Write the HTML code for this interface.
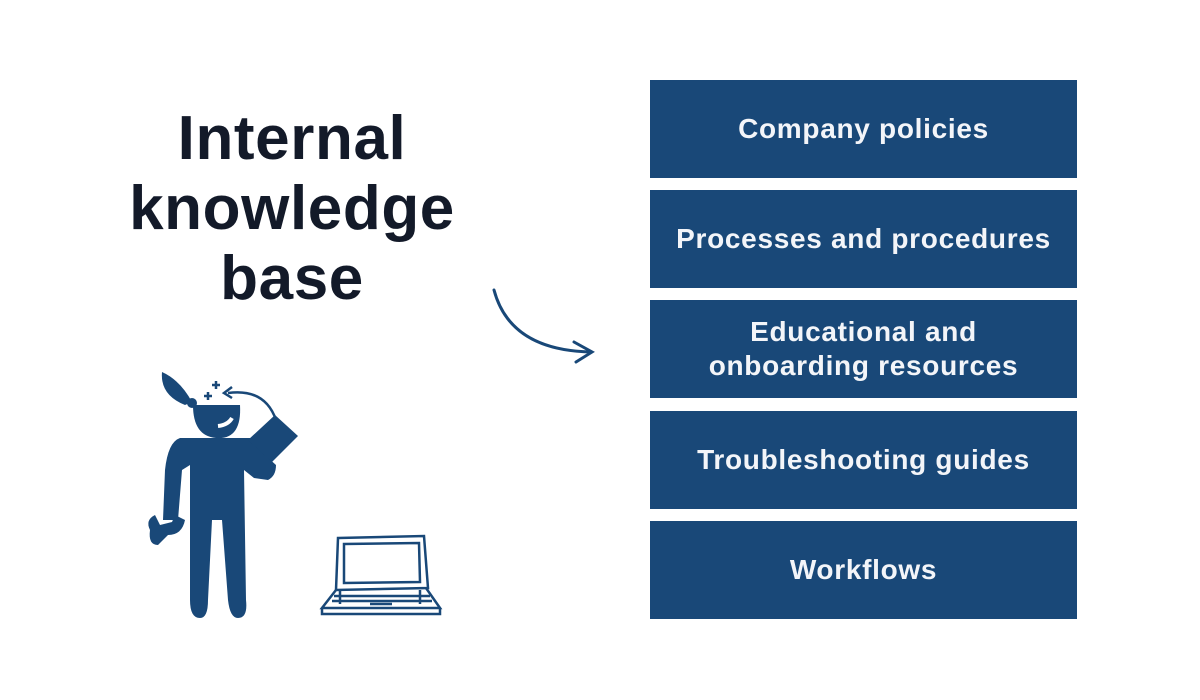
<!DOCTYPE html>
<html><head><meta charset="utf-8"><style>
body{margin:0;width:1200px;height:700px;background:#fff;position:relative;overflow:hidden;font-family:"Liberation Sans",sans-serif}
.t{position:absolute;left:42px;width:500px;top:104px;text-align:center;font-weight:bold;font-size:62px;letter-spacing:0.6px;line-height:70px;color:#131a29}
.b{position:absolute;left:650px;width:427px;height:98px;background:#194878;color:#f3f5f9;font-weight:bold;font-size:28px;letter-spacing:0.7px;display:flex;align-items:center;justify-content:center;text-align:center;line-height:34px}
</style></head><body>
<div class="t">Internal<br>knowledge<br>base</div>
<div class="b" style="top:80px">Company policies</div>
<div class="b" style="top:190px">Processes and procedures</div>
<div class="b" style="top:300px">Educational and<br>onboarding resources</div>
<div class="b" style="top:411px">Troubleshooting guides</div>
<div class="b" style="top:521px">Workflows</div>
<svg width="1200" height="700" style="position:absolute;left:0;top:0">
<g fill="none" stroke="#194878" stroke-width="3" stroke-linecap="round">
<path d="M494 290 Q510 350 590 352"/>
<path d="M574 342 L592 352 L576 362"/>
</g>
<g fill="#194878">
<path d="M193 405 L240 405 Q242 440 216 438 Q193 436 193 405Z"/>
<path d="M162 372 Q180 380 192 402 L185 405 Q160 395 162 372Z"/>
<circle cx="192" cy="403" r="5"/>
<path d="M180 438 Q168 442 165 470 L163 520 L178 520 L182 470 L190 465 L190 600 Q190 618 200 618 Q208 618 208 600 L212 520 L222 520 L228 600 Q230 618 238 618 Q248 618 246 600 L244 470 L254 478 L268 480 Q276 476 276 465 L265 455 L250 438Z"/>
<path d="M150 530 Q145 520 155 515 L160 525 L172 522 L175 515 L185 520 Q182 535 168 535 L158 545 Q148 545 150 530Z"/>
<path d="M248 440 L275 415 L298 436 L272 462Z"/>
</g>
<path d="M218 426 Q228 425 232 418" stroke="#fff" stroke-width="4" fill="none"/>
<g stroke="#194878" stroke-width="2.5" fill="none">
<path d="M276 420 Q265 388 228 393"/><path d="M232 387 L224 393 L232 398"/>
<path d="M212 385h8M216 381v8M204 396h8M208 392v8"/>
<path d="M338 538 L424 536 L428 588 L336 590Z"/>
<path d="M344 544 L419 543 L420 582 L344 583Z"/>
<path d="M336 590 L322 608 L440 608 L426 588"/>
<path d="M322 608 L322 614 L440 614 L440 608"/>
<path d="M334 596h96M332 601h100M340 590v14M420 590v14M370 604h22"/>
</g>
</svg>
</body></html>
